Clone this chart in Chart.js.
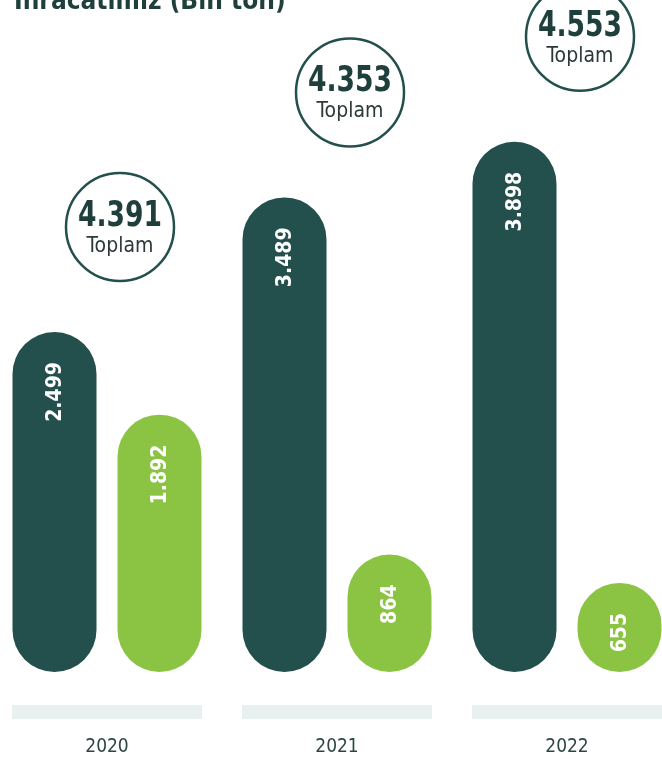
<!DOCTYPE html>
<html>
<head>
<meta charset="utf-8">
<script src="https://cdn.jsdelivr.net/npm/chart.js@4"></script>
<style>
  html, body { margin: 0; padding: 0; background: #fff; overflow: hidden; }
  body { width: 662px; height: 759px; position: relative; }
  #title {
    position: absolute; left: 14px; top: -15px; z-index: 2;
    font-family: "DejaVu Sans Condensed", "DejaVu Sans", sans-serif;
    font-weight: bold; font-size: 26px; color: #1f3f3c; white-space: nowrap;
  }
  #exportChart { position: absolute; left: -8px; top: 0; }
</style>
</head>
<body>
<div id="title">İhracatımız (Bin ton)</div>
<canvas id="exportChart" width="690" height="759"></canvas>
<script>
// Ihracat verileri (bin ton)
const years = ['2020', '2021', '2022'];
const darkValues = [2499, 3489, 3898];
const greenValues = [1892, 864, 655];
const totals = [4391, 4353, 4553];
const valueLabels = [['2.499', '3.489', '3.898'], ['1.892', '864', '655']];
const totalLabels = ['4.391', '4.353', '4.553'];

const darkColor = '#234f4c';
const greenColor = '#8bc443';
const fontFamily = '"DejaVu Sans Condensed", "DejaVu Sans", sans-serif';

// yazilar, halkalar ve alt seritler
const decorPlugin = {
    id: 'decor',
    afterDatasetsDraw(chart) {
        const ctx = chart.ctx;
        const xScale = chart.scales.x;

        // bar ici dikey etiketler
        chart.data.datasets.forEach((ds, di) => {
            chart.getDatasetMeta(di).data.forEach((bar, i) => {
                ctx.save();
                ctx.translate(bar.x, bar.y + 30);
                ctx.rotate(-Math.PI / 2);
                ctx.fillStyle = '#ffffff';
                ctx.font = 'bold 21px ' + fontFamily;
                ctx.textAlign = 'right';
                ctx.textBaseline = 'middle';
                ctx.fillText(valueLabels[di][i], 0, 1);
                ctx.restore();
            });
        });

        // toplam halkalari
        const darkMeta = chart.getDatasetMeta(0);
        totals.forEach((t, i) => {
            const cx = xScale.getPixelForValue(i) + 13;
            const cy = darkMeta.data[i].y - 105;
            ctx.save();
            ctx.beginPath();
            ctx.arc(cx, cy, 54, 0, Math.PI * 2);
            ctx.fillStyle = '#ffffff';
            ctx.fill();
            ctx.lineWidth = 2.5;
            ctx.strokeStyle = darkColor;
            ctx.stroke();
            ctx.textAlign = 'center';
            ctx.textBaseline = 'alphabetic';
            ctx.save();
            ctx.translate(cx, cy - 1);
            ctx.scale(0.82, 1);
            ctx.fillStyle = '#1f3f3c';
            ctx.font = 'bold 36px ' + fontFamily;
            ctx.fillText(totalLabels[i], 0, 0);
            ctx.restore();
            ctx.fillStyle = '#2b3a39';
            ctx.font = '21px ' + fontFamily;
            ctx.fillText('Toplam', cx, cy + 25);
            ctx.restore();
        });

        // alt seritler ve yillar
        years.forEach((y, i) => {
            const cx = xScale.getPixelForValue(i);
            ctx.save();
            ctx.fillStyle = '#e8f1ef';
            ctx.fillRect(cx - 95, 705, 190, 14);
            ctx.fillStyle = '#2d4644';
            ctx.font = '19px ' + fontFamily;
            ctx.textAlign = 'center';
            ctx.textBaseline = 'middle';
            ctx.fillText(y, cx, 747);
            ctx.restore();
        });
    }
};

const ctx = document.getElementById('exportChart').getContext('2d');
const exportChart = new Chart(ctx, {
    type: 'bar',
    data: {
        labels: years,
        datasets: [{
            data: darkValues,
            backgroundColor: darkColor,
            borderRadius: 42,
            borderSkipped: false
        }, {
            data: greenValues,
            backgroundColor: greenColor,
            borderRadius: 42,
            borderSkipped: false
        }]
    },
    options: {
        responsive: false,
        animation: false,
        categoryPercentage: 0.913,
        barPercentage: 0.8,
        layout: { padding: { left: 0, right: 0, top: 0, bottom: 87 } },
        scales: {
            x: { display: false },
            y: { display: false, min: 0, max: 4940 }
        },
        plugins: {
            legend: { display: false },
            tooltip: { enabled: false }
        }
    },
    plugins: [decorPlugin]
});
</script>
</body>
</html>
